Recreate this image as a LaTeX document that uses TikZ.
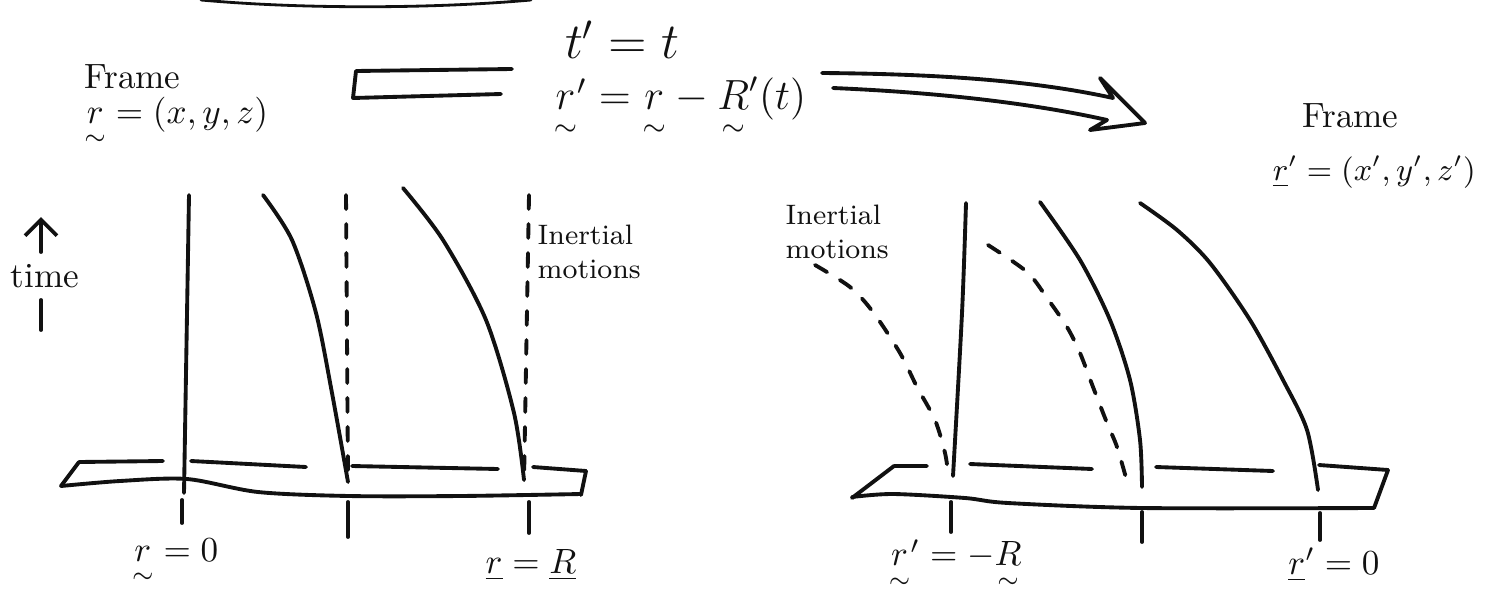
\documentclass[tikz,border=0pt]{standalone}
\usepackage{amsmath,amssymb}
\usetikzlibrary{arrows.meta}
\definecolor{Ink}{HTML}{111111}
\tikzset{>=Latex,
 every node/.style={text=Ink},
 pen/.style={draw=Ink,line width=1.1pt,line cap=round,line join=round},
 inert/.style={pen,dash pattern=on 1.4mm off 1.5mm},
 lab/.style={font=\normalsize,inner sep=1pt},
 note/.style={font=\footnotesize,align=left,inner sep=0pt},
 }
\newcommand{\uvt}[1]{\underset{\sim}{#1}}

\begin{document}
\begin{tikzpicture}[x=0.1mm,y=-0.1mm]
 \useasboundingbox (0,0) rectangle (1489,597);
 % leftover stroke cut at the top edge
 \draw[pen,line width=.8pt] (201,0) .. controls (300,9) and (430,9) .. (531,0);
 % titles
 \node[lab,anchor=west] (frameL) at (80,77) {Frame};
 \node[lab,anchor=west] (posL) at (80,123) {$\uvt{r}=(x,y,z)$};
 \node[lab,anchor=west] (frameR) at (1298,116) {Frame};
 \node[lab,font=\small,anchor=east] (posR) at (1480,172) {$\underline{r}'=(x',y',z')$};
 \node[font=\Large] (same) at (622,40) {$t'=t$};
 \node[font=\large] (law) at (680,108) {$\uvt{r}'=\uvt{r}-\uvt{R}'(t)$};
 % hollow arrow round the law
 \draw[pen] (512,69) -- (356,71) -- (353,98) -- (501,94);
 \draw[pen] (822,73) .. controls (950,74) and (1040,82) .. (1113,98) -- (1100,78)
  -- (1145,123) -- (1090,130) -- (1107,120) .. controls (1040,105) and (950,93) .. (833,88);
 % left frame
 \draw[pen,-{Straight Barb[length=1.6mm]}] (41,252) -- (41,217);
 \node[lab] (timeL) at (45,276) {time};
 \draw[pen] (41,300) -- (41,330);
 \draw[pen] (189,195) -- (184,493);
 \draw[pen] plot[smooth] coordinates {(263,195) (292,240) (316,313) (332,393) (348,482)};
 \draw[pen] plot[smooth] coordinates {(403,188) (443,240) (486,320) (514,413) (524,480)};
 \draw[inert] (346,195) -- (348,483);
 \draw[inert] (529,195) -- (524,482);
 \node[note,anchor=west] (inertL) at (537,252) {Inertial\\ motions};
 \draw[pen] (79,462) -- (163,461) (191,461) -- (306,467) (352,466) -- (498,469) (533,467) -- (586,471);
 \draw[pen] (79,462) -- (61,486);
 \draw[pen] (586,471) -- (581,495);
 \draw[pen] plot[smooth] coordinates {(61,486) (120,481) (187,479) (258,492) (349,496) (460,496) (581,494)};
 % right frame
 \node[note,anchor=west] (inertR) at (785,232) {Inertial\\ motions};
 \draw[inert] plot[smooth] coordinates {(815,265) (850,287) (873,312) (900,353) (917,387) (935,420) (945,453) (948,473)};
 \draw[inert] plot[smooth] coordinates {(988,245) (1027,272) (1047,298) (1067,327) (1080,353) (1093,387) (1107,423) (1117,447) (1128,485)};
 \draw[pen] plot[smooth] coordinates {(966,203) (962,313) (953,476)};
 \draw[pen] plot[smooth] coordinates {(1040,202) (1080,260) (1110,320) (1130,380) (1140,440) (1142,487)};
 \draw[pen] plot[smooth] coordinates {(1140,203) (1177,230) (1210,263) (1250,320) (1283,380) (1307,430) (1318,490)};
 \draw[pen] (894,466) -- (927,466) (970,464) -- (1092,469) (1156,467) -- (1273,471) (1319,465) -- (1388,470);
 \draw[pen] (894,466) -- (852,498);
 \draw[pen] (1388,470) -- (1374,508);
 \draw[pen] plot[smooth] coordinates {(852,497) (893,494) (965,498) (1008,503) (1142,508) (1374,508)};
 % ticks below the planks
 \foreach \x/\a/\b in {182/500/523,348/502/537,529/502/533,951/502/532,1142/512/542,1320/513/540}{
  \draw[pen] (\x,\a) -- (\x,\b);}
 \node[lab] (orgL) at (175,562) {$\uvt{r}=0$};
 \node[lab] (endL) at (531,565) {$\underline{r}=\underline{R}$};
 \node[lab] (endR) at (955,565) {$\uvt{r}'=-\uvt{R}$};
 \node[lab] (orgR) at (1334,565) {$\underline{r}'=0$};
\end{tikzpicture}
\end{document}
